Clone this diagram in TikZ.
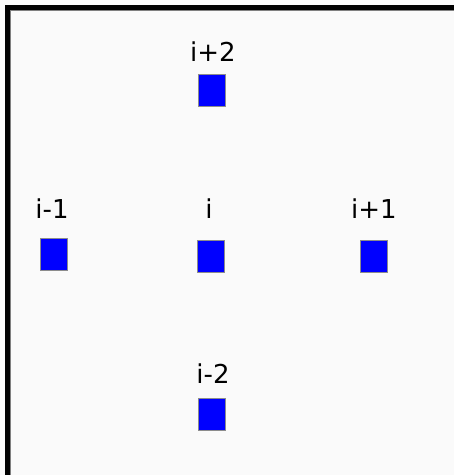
\documentclass[tikz,border=0pt]{standalone}
\usepackage{fontspec}
\setmainfont{DejaVu Sans}
\begin{document}
\begin{tikzpicture}[x=1pt,y=-1pt,
  cell/.style={draw=black!45,line width=0.6pt,fill=blue,minimum width=27pt,minimum height=32pt,inner sep=0pt},
  lab/.style={anchor=base,inner sep=0pt,font=\fontsize{26}{29}\selectfont}]
\useasboundingbox (0,0) rectangle (454,475);
\fill[black!2] (0,0) rectangle (454,475);
\draw[black!50,line width=1pt] (10,475) -- (10,10) -- (454,10);
\draw[black,line width=5pt] (7,475) -- (7,7) -- (454,7);
\node[cell] (up) at (211.5,90.5) {};
\node[cell] (left) at (54,254) {};
\node[cell] (mid) at (211,256) {};
\node[cell] (right) at (373.3,256) {};
\node[cell] (down) at (211.5,414) {};
\node[lab] (lup) at (213,61.5) {i+2};
\node[lab] (lleft) at (52,218) {i-1};
\node[lab] (lmid) at (209,218) {i};
\node[lab] (lright) at (374,218) {i+1};
\node[lab] (ldown) at (213,383) {i-2};
\end{tikzpicture}
\end{document}
